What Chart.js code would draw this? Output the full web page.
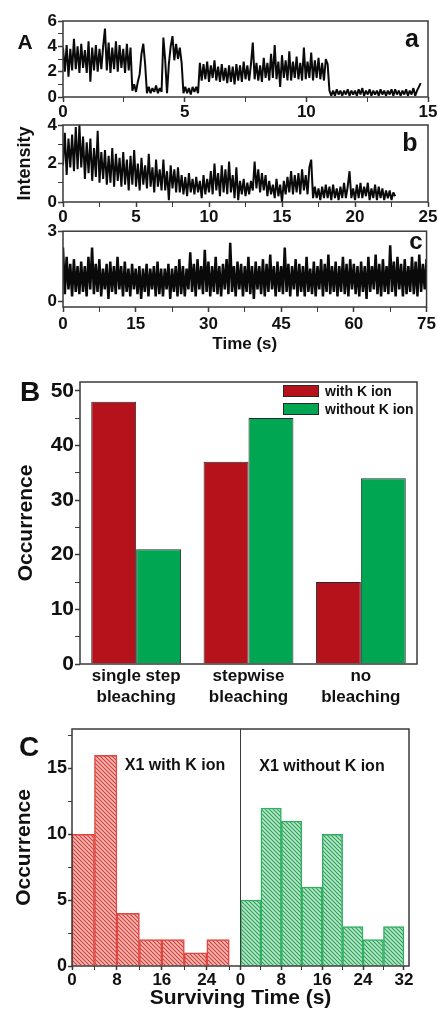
<!DOCTYPE html>
<html><head><meta charset="utf-8">
<script src="https://cdn.jsdelivr.net/npm/chart.js@4/dist/chart.umd.min.js"></script>
<style>
html,body{margin:0;padding:0;background:#fff;}
body{width:438px;height:1011px;position:relative;overflow:hidden;font-family:"Liberation Sans",Arial,sans-serif;color:#111;}
.box{position:absolute;left:0;width:438px;}
.lbl{position:absolute;font-weight:bold;line-height:1;transform:translate(-50%,-50%);white-space:nowrap;color:#111;}
.leg{position:absolute;left:283px;display:flex;align-items:center;font-weight:bold;font-size:14px;line-height:1;color:#111;}
.sw{width:36px;height:12px;border:1px solid #2a2a2a;box-sizing:border-box;margin-right:6px;}
</style></head><body>
<div class="box" style="top:0;height:125px"><canvas id="ca"></canvas></div>
<div class="box" style="top:104px;height:120px"><canvas id="cb"></canvas></div>
<div class="box" style="top:220px;height:135px"><canvas id="cc"></canvas></div>
<div class="box" style="top:360px;height:350px"><canvas id="cB"></canvas></div>
<div class="box" style="top:680px;height:331px"><canvas id="cC"></canvas></div>

<div class="lbl" style="left:25px;top:41px;font-size:21px">A</div>
<div class="lbl" style="left:412px;top:38px;font-size:25px">a</div>
<div class="lbl" style="left:410px;top:142px;font-size:25px">b</div>
<div class="lbl" style="left:416px;top:241px;font-size:24px">c</div>
<div class="lbl" style="left:30px;top:392px;font-size:28px">B</div>
<div class="lbl" style="left:29px;top:747px;font-size:28px">C</div>
<div id="legB"></div>
<div class="lbl" style="left:175px;top:765px;font-size:16px">X1 with K ion</div>
<div class="lbl" style="left:322px;top:766px;font-size:16px">X1 without K ion</div>

<script>
// ---------------- DATA ----------------
// Panel A: intensity traces (sampling interval in seconds + intensity values)
const aDt = 0.075;
const traceA = [3.9,2.0,4.1,1.6,3.8,2.1,4.6,2.2,4.0,1.9,
4.2,2.3,3.7,1.9,4.4,1.2,3.9,2.1,4.1,2.0,
3.8,2.2,4.0,5.4,2.1,4.3,1.9,3.9,2.2,4.4,
2.0,4.1,2.3,3.8,1.9,4.2,2.1,3.9,
0.5,1.0,
0.4,1.2,1.8,3.4,4.2,2.6,
0.3,0.8,0.3,0.7,0.4,0.9,0.3,0.7,0.4,
4.7,2.9,0.3,
2.6,4.0,4.8,2.9,4.2,3.0,3.9,2.7,
0.3,0.8,0.3,0.7,0.2,0.8,0.4,0.8,0.3,
2.7,1.3,2.6,1.4,2.8,1.2,2.5,1.5,2.9,1.3,
2.4,1.2,2.6,1.3,2.3,1.1,2.5,1.2,2.4,1.0,
2.6,1.3,2.5,1.2,2.8,1.4,2.5,1.3,2.6,4.3,
1.4,2.7,1.3,2.5,1.2,3.1,1.5,2.7,1.3,3.4,
1.5,4.1,1.4,2.8,0.8,3.3,1.5,2.9,1.3,3.6,
1.3,2.8,1.5,3.2,1.4,2.7,1.3,3.9,1.4,2.8,
1.5,3.5,1.3,2.9,1.5,3.1,1.4,2.7,1.3,3.0,
2.6,
0.5,0.1,0.5,0.1,0.6,0.2,0.5,0.1,0.5,0.2,
0.6,0.1,0.5,0.2,0.5,0.1,0.6,0.2,0.7,0.1,
0.5,0.2,0.6,0.1,0.5,0.2,0.5,0.1,0.6,0.2,
0.5,0.1,0.5,0.2,0.6,0.1,0.6,0.2,0.5,0.1,
0.5,0.2,0.6,0.1,0.5,0.2,0.7,0.1,0.5,0.8,
1.1];

const bDt = 0.125;
const traceB = [1.9,3.6,1.4,3.3,1.8,3.5,1.6,3.9,
1.7,4.0,1.8,3.4,1.2,3.1,1.5,3.3,
1.1,2.8,1.3,3.7,1.0,2.6,1.2,2.7,
0.9,2.4,1.0,2.8,0.8,2.5,1.1,2.3,
0.8,2.6,0.9,2.2,0.6,2.4,0.9,2.7,
0.8,2.0,0.6,2.3,0.9,1.9,0.7,2.5,
0.8,1.8,0.5,2.2,0.8,1.7,0.6,2.2,
0.6,1.6,0.1,1.9,0.7,1.7,0.5,1.8,
0.5,1.4,0.4,1.3,0.3,1.5,0.5,1.2,
0.4,1.3,0.5,1.1,0.2,1.4,0.4,1.2,
0.5,1.6,0.4,2.0,0.6,1.5,0.3,1.9,
0.5,1.7,0.4,2.1,0.5,1.4,0.2,1.8,
0.1,1.1,0.4,1.2,0.3,1.0,0.4,1.1,
0.6,2.1,0.7,1.7,0.5,1.5,0.6,1.4,
0.3,1.1,0.4,0.9,0.2,1.2,0.3,0.9,
0.0,1.1,0.4,1.3,0.5,1.6,0.4,1.4,
0.5,1.5,0.4,1.7,0.6,1.4,0.4,1.8,
2.2,0.2,0.8,0.2,0.7,0.1,0.8,0.2,
0.9,0.2,0.8,0.1,0.9,0.2,0.7,0.1,
0.8,0.2,1.0,0.2,0.8,1.6,0.2,0.7,
0.1,0.9,0.2,1.0,0.2,0.8,0.3,1.0,
0.1,0.7,0.2,0.9,0.1,0.8,0.2,0.7,
0.1,0.6,0.2,0.6,0.1,0.5,0.3];

const cDt = 0.375;
const traceC = [2.3,0.3,1.9,0.5,1.6,0.2,1.8,0.4,1.5,0.3,
1.7,0.4,1.5,0.2,1.9,0.5,2.3,0.3,1.6,0.4,
1.8,0.2,1.4,0.5,1.6,0.1,1.7,0.4,1.5,0.3,
1.9,0.5,1.5,0.2,1.7,0.4,1.4,0.2,1.6,0.5,
1.4,0.3,1.5,0.1,1.4,0.4,1.6,0.2,1.4,0.5,
1.5,0.2,1.7,0.3,1.4,0.2,1.4,0.5,1.6,0.1,
1.4,0.4,1.5,0.2,1.8,0.3,1.5,0.2,1.4,0.5,
2.1,0.4,1.6,0.2,1.8,0.5,1.5,0.3,2.2,0.4,
1.7,0.2,1.5,0.4,1.9,0.3,1.5,0.2,1.6,0.5,
1.8,0.3,2.5,0.4,1.5,0.2,1.7,0.5,1.6,0.2,
1.5,0.4,1.9,0.3,1.5,0.1,1.7,0.5,1.5,0.3,
1.8,0.2,1.6,0.4,2.0,0.5,1.5,0.2,1.7,0.4,
1.5,0.3,2.3,0.4,1.6,0.2,1.5,0.5,1.8,0.2,
1.6,0.4,1.5,0.2,1.9,0.4,1.4,0.3,1.7,0.2,
1.5,0.5,1.8,0.2,1.6,0.4,2.0,0.3,1.5,0.4,
1.7,0.2,1.5,0.4,1.9,0.3,1.6,0.2,1.8,0.5,
1.6,0.3,1.5,0.2,1.7,0.4,1.5,0.1,1.9,0.4,
1.5,0.5,2.0,0.3,1.6,0.2,1.8,0.4,1.5,0.3,
2.4,0.4,1.7,0.2,1.9,0.5,1.6,0.2,1.8,0.3,
1.5,0.4,1.9,0.3,1.7,0.2,2.0,0.4,1.6,0.5,
1.8];

// Panel A tick labels
const aXTicks = [0,5,10,15], aXMinor = [2.5,7.5,12.5];
const aYTicks = [0,2,4,6],   aYMinor = [1,3,5];
const bXTicks = [0,5,10,15,20,25], bXMinor = [2.5,7.5,12.5,17.5,22.5];
const bYTicks = [0,2,4],     bYMinor = [1,3];
const cXTicks = [0,15,30,45,60,75], cXMinor = [7.5,22.5,37.5,52.5,67.5];
const cYTicks = [0,3],       cYMinor = [];

// Panel B: bleaching occurrence
const bCategories = [['single step','bleaching'],['stepwise','bleaching'],['no','bleaching']];
const bSeries = ['with K ion','without K ion'];
const bWithK = [48,37,15];
const bWithoutK = [21,45,34];
const bYMajor = [0,10,20,30,40,50], bYMinorT = [5,15,25,35,45];

// Panel C: surviving time histograms (bin centres in s, counts)
const cTimeWith = [2,6,10,14,18,22,26];
const cCountWith = [10,16,4,2,2,1,2];
const cTimeWithout = [2,6,10,14,18,22,26,30];
const cCountWithout = [5,12,11,6,10,3,2,3];
const cXMajor = [0,8,16,24], cXRMajor = [0,8,16,24,32], cXMinorT = [4,12,20,28];
const cYMajor = [0,5,10,15], cYMinorT = [2.5,7.5,12.5,17.5];

// ---------------- STYLE / HELPERS ----------------
const FONT = '"Liberation Sans", Arial, sans-serif';
const INK = '#111111';
const AXIS = '#3a3a3a';
Chart.defaults.font.family = FONT;

const framePlugin = {
  id: 'frame',
  afterDatasetsDraw(chart) {
    const {ctx, chartArea: a} = chart;
    ctx.save();
    ctx.strokeStyle = AXIS; ctx.lineWidth = 1.5;
    ctx.strokeRect(a.left, a.top, a.right - a.left, a.bottom - a.top);
    if (chart.scales.xR) {
      const x = chart.scales.xR.left;
      ctx.lineWidth = 1; ctx.beginPath(); ctx.moveTo(x, a.top); ctx.lineTo(x, a.bottom); ctx.stroke();
    }
    ctx.restore();
  }
};

function linAxis(o) {
  const all = o.major.concat(o.minor).sort((p, q) => p - q);
  return {
    type: 'linear', min: o.min, max: o.max, offset: false,
    position: o.position,
    afterBuildTicks: s => { s.ticks = all.map(v => ({value: v})); },
    afterFit: s => { if (o.horizontal) s.height = o.size; else s.width = o.size; },
    ticks: { autoSkip: false, maxRotation: 0, padding: o.pad, color: INK,
      font: {family: FONT, size: o.fontSize, weight: 'bold'},
      callback: v => o.major.includes(v) ? String(v) : '' },
    grid: { display: true, drawOnChartArea: false, drawTicks: true, tickLength: o.tickLen, color: AXIS, offset: false,
      tickWidth: c => (c.tick && o.major.includes(c.tick.value)) ? 1.5 : 1 },
    border: { display: false }
  };
}

function base(padding) {
  return { responsive: true, maintainAspectRatio: false, animation: false, events: [],
    layout: { padding },
    plugins: { legend: { display: false }, tooltip: { enabled: false } } };
}

function traceChart(id, dt, vals, lw, xMax, xMaj, xMin, yMin, yMax, yMaj, yMinr, padding, ySize, xSize, xPad, extraY, extraX) {
  const opts = base(padding);
  const xa = linAxis({min: 0, max: xMax, major: xMaj, minor: xMin, fontSize: 17, tickLen: 5, pad: xPad, size: xSize, horizontal: true, position: 'bottom'});
  const ya = linAxis({min: yMin, max: yMax, major: yMaj, minor: yMinr, fontSize: 17, tickLen: 5, pad: 1, size: ySize, horizontal: false, position: 'left'});
  Object.assign(xa, extraX || {});
  Object.assign(ya, extraY || {});
  opts.scales = { x: xa, y: ya };
  return new Chart(document.getElementById(id), {
    type: 'line',
    data: { datasets: [{ data: vals.map((v, i) => ({x: i * dt, y: v})), borderColor: '#0a0a0a', borderWidth: lw,
      borderJoinStyle: 'bevel', pointRadius: 0, tension: 0, fill: false }] },
    options: opts,
    plugins: [framePlugin]
  });
}

traceChart('ca', aDt, traceA, 2.0, 15, aXTicks, aXMinor, 0, 6, aYTicks, aYMinor,
  {left: 0, right: 10, top: 21, bottom: 0}, 63, 28, 0);
traceChart('cb', bDt, traceB, 2.0, 25, bXTicks, bXMinor, 0, 4, bYTicks, bYMinor,
  {left: 10, right: 10, top: 21, bottom: 0}, 53, 22, 0,
  { title: { display: true, text: 'Intensity', color: INK, font: {family: FONT, size: 18, weight: 'bold'}, padding: {top: 4, bottom: 0} } });
traceChart('cc', cDt, traceC, 2.5, 75, cXTicks, cXMinor, -0.25, 3, cYTicks, cYMinor,
  {left: 0, right: 10, top: 11, bottom: 0}, 63, 48, 2, null,
  { title: { display: true, text: 'Time (s)', color: INK, font: {family: FONT, size: 17, weight: 'bold'}, padding: {top: 0, bottom: 0} } });

// ---- Panel B ----
const bColors = ['#b5121b', '#00a651'];
(function () {
  const opts = base({left: 10, right: 21, top: 22, bottom: 0});
  const ya = linAxis({min: 0, max: 51.6, major: bYMajor, minor: bYMinorT, fontSize: 21, tickLen: 5, pad: 1, size: 70, horizontal: false, position: 'left'});
  ya.title = { display: true, text: 'Occurrence', color: INK, font: {family: FONT, size: 21, weight: 'bold'}, padding: {top: 4, bottom: 0} };
  opts.scales = {
    x: { type: 'category', grid: { display: false, drawTicks: false }, border: { display: false },
      afterFit: s => { s.height = 46; },
      ticks: { padding: 2, color: INK, autoSkip: false, maxRotation: 0, font: {family: FONT, size: 17, weight: 'bold', lineHeight: 1.235} } },
    y: ya
  };
  new Chart(document.getElementById('cB'), {
    type: 'bar',
    data: { labels: bCategories, datasets: [
      { label: bSeries[0], data: bWithK, backgroundColor: bColors[0], borderColor: '#2a2a2a', borderWidth: 1, categoryPercentage: 0.8, barPercentage: 1 },
      { label: bSeries[1], data: bWithoutK, backgroundColor: bColors[1], borderColor: '#2a2a2a', borderWidth: 1, categoryPercentage: 0.8, barPercentage: 1 }
    ]},
    options: opts,
    plugins: [framePlugin]
  });
  const leg = document.getElementById('legB');
  const tops = [384, 402];
  bSeries.forEach((s, i) => {
    const d = document.createElement('div');
    d.className = 'leg'; d.style.top = tops[i] + 'px';
    d.innerHTML = '<span class="sw" style="background:' + bColors[i] + '"></span><span>' + s + '</span>';
    leg.appendChild(d);
  });
})();

// ---- Panel C ----
(function () {
  const canvas = document.getElementById('cC');
  const mctx = canvas.getContext('2d');
  function hatch(bg, fg) {
    const s = 4, c = document.createElement('canvas');
    c.width = s; c.height = s;
    const g = c.getContext('2d');
    g.fillStyle = bg; g.fillRect(0, 0, s, s);
    g.strokeStyle = fg; g.lineWidth = 1.1;
    g.beginPath();
    g.moveTo(0, 0); g.lineTo(s, s);
    g.moveTo(-1, s - 1); g.lineTo(1, s + 1);
    g.moveTo(s - 1, -1); g.lineTo(s + 1, 1);
    g.stroke();
    return mctx.createPattern(c, 'repeat');
  }
  const redPat = hatch('#f4bcb8', '#d63a34');
  const greenPat = hatch('#bce6cb', '#26a458');

  const opts = base({left: 8, right: 29, top: 49, bottom: 0});
  const ya = linAxis({min: 0, max: 18, major: cYMajor, minor: cYMinorT, fontSize: 18, tickLen: 4, pad: 1, size: 64, horizontal: false, position: 'left'});
  ya.title = { display: true, text: 'Occurrence', color: INK, font: {family: FONT, size: 21, weight: 'bold'}, padding: {top: 4, bottom: 0} };
  const xL = linAxis({min: 0, max: 30, major: cXMajor, minor: cXMinorT, fontSize: 17, tickLen: 4, pad: 0, size: 22, horizontal: true, position: 'bottom'});
  const xR = linAxis({min: 0, max: 33, major: cXRMajor, minor: cXMinorT, fontSize: 17, tickLen: 4, pad: 0, size: 22, horizontal: true, position: 'bottom'});
  Object.assign(xL, {stack: 'cx', stackWeight: 1, weight: 0});
  Object.assign(xR, {stack: 'cx', stackWeight: 1, weight: 0});
  const xT = { type: 'linear', position: 'bottom', min: 0, max: 1, weight: 1,
    ticks: { display: false }, grid: { display: false, drawTicks: false }, border: { display: false },
    afterFit: s => { s.height = 23; },
    title: { display: true, text: 'Surviving Time (s)', color: INK, font: {family: FONT, size: 21, weight: 'bold'}, padding: {top: 0, bottom: 0} } };
  opts.scales = { xL, xR, xT, y: ya };
  new Chart(canvas, {
    type: 'bar',
    data: { datasets: [
      { label: 'X1 with K ion', xAxisID: 'xL', yAxisID: 'y', grouped: false,
        data: cTimeWith.map((t, i) => ({x: t, y: cCountWith[i]})),
        backgroundColor: redPat, borderColor: '#e0453f', borderWidth: 1.5, barPercentage: 1, categoryPercentage: 1 },
      { label: 'X1 without K ion', xAxisID: 'xR', yAxisID: 'y', grouped: false,
        data: cTimeWithout.map((t, i) => ({x: t, y: cCountWithout[i]})),
        backgroundColor: greenPat, borderColor: '#2fb060', borderWidth: 1.5, barPercentage: 1, categoryPercentage: 1 }
    ]},
    options: opts,
    plugins: [framePlugin]
  });
})();
</script>
</body></html>
